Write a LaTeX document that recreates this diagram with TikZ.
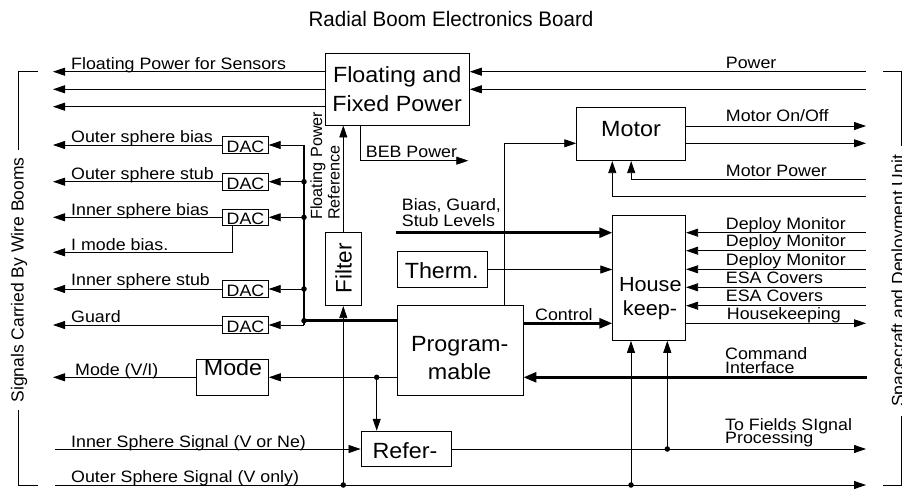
\documentclass[tikz,border=0pt]{standalone}
\usepackage{fontspec}
\setmainfont{Liberation Sans}
\newfontfamily\lblfam[FakeStretch=1.08]{Liberation Sans}
\newfontfamily\bigfam[FakeStretch=1.06]{Liberation Sans}
\newfontfamily\ttlfam[FakeStretch=0.98]{Liberation Sans}
\usetikzlibrary{arrows.meta}
\newcommand\lblf{\lblfam\fontsize{16.5}{16.5}\selectfont}
\newcommand\bigf{\bigfam\fontsize{22}{22}\selectfont}
\newcommand\hkf{\bigfam\fontsize{20.4}{20.4}\selectfont}
\newcommand\ttlf{\ttlfam\fontsize{21}{21}\selectfont}
\newcommand\rotf{\fontsize{17.5}{17.5}\selectfont}
\newcommand\rotsf{\fontsize{16.2}{16.2}\selectfont}
\newcommand\filtf{\fontsize{22.5}{22.5}\selectfont}
\tikzset{
  box/.style={draw, line width=0.8pt, inner sep=0pt},
  ln/.style={line width=0.8pt},
  thk/.style={line width=2.8pt},
  arr/.style={-{Triangle[length=12pt,width=8pt]}},
  arrT/.style={-{Triangle[length=13pt,width=10pt]}},
  dot/.style={circle, fill, inner sep=0pt, minimum size=5.5pt},
  lbl/.style={font=\lblf, inner sep=0pt, anchor=base west},
  big/.style={font=\bigf, inner sep=0pt, anchor=base},
  rlbl/.style={font=\rotf, inner sep=0pt, rotate=90},
}
\begin{document}
\begin{tikzpicture}[x=1pt,y=-1pt]
\useasboundingbox (0,0) rectangle (902,489);
% title
\node[font=\ttlf, anchor=base, inner sep=0pt] (title) at (451,27) {Radial Boom Electronics Board};
% boxes
\node[box, minimum width=144.3pt, minimum height=71.7pt] (fp) at (397.2,89.2) {};
\node[box, minimum width=109pt, minimum height=53.4pt] (motor) at (631.2,134) {};
\node[box, minimum width=73pt, minimum height=125.5pt] (house) at (649.2,277.7) {};
\node[box, minimum width=90pt, minimum height=35.6pt] (therm) at (442.3,269.5) {};
\node[box, minimum width=125.7pt, minimum height=89.5pt] (prog) at (460.2,350.2) {};
\node[box, minimum width=72.3pt, minimum height=35.7pt] (mode) at (232.2,377.3) {};
\node[box, minimum width=90.7pt, minimum height=35.7pt] (refer) at (406.3,449) {};
\node[box, minimum width=36.7pt, minimum height=73pt] (filt) at (343.3,269.2) {};
\node[box, minimum width=45.6pt, minimum height=16.7pt] (dac1) at (245.5,145) {};
\node[box, minimum width=45.6pt, minimum height=16.7pt] (dac2) at (245.5,181.7) {};
\node[box, minimum width=45.6pt, minimum height=16.7pt] (dac3) at (245.5,217.3) {};
\node[box, minimum width=45.6pt, minimum height=16.7pt] (dac4) at (245.5,289) {};
\node[box, minimum width=45.6pt, minimum height=16.7pt] (dac5) at (245.5,325) {};
% box texts
\node[big] (fpt1) at (397.2,82.7) {Floating and};
\node[big] (fpt2) at (397.2,111.7) {Fixed Power};
\node[big] (motort) at (631,136.7) {Motor};
\node[big, font=\hkf] (houset1) at (650.3,291.7) {House};
\node[big, font=\hkf] (houset2) at (650,315) {keep-};
\node[big] (thermt) at (441.7,278.3) {Therm.};
\node[big] (progt1) at (459.7,351) {Program-};
\node[big] (progt2) at (459.7,379.3) {mable};
\node[big] (refert) at (405,458.3) {Refer-};
\node[big] (modet) at (233,375) {Mode};
\node[font=\filtf, inner sep=0pt, rotate=90, anchor=base] (filtt) at (351.7,268.3) {Filter};
\foreach \i/\y in {1/145,2/181.7,3/217.3,4/289,5/325}
  \node[lbl, anchor=base] (dact\i) at (245.5,\y+7.7) {DAC};
% coordinates
\coordinate (Lx) at (53,0);
\coordinate (L1) at (53,71.7);
\coordinate (L2) at (53,89.3);
\coordinate (L3) at (53,106.7);
\coordinate (IMB) at (53,252.3);
\coordinate (B0) at (304,145);
\coordinate (B1) at (304,181.7);
\coordinate (B2) at (304,217.3);
\coordinate (B3) at (304,289);
\coordinate (B4) at (304,320.7);
\coordinate (B5) at (304,325);
\coordinate (D1) at (343.3,485);
\coordinate (D2) at (631,485);
\coordinate (D3) at (667.3,449);
\coordinate (MD) at (376.7,377.3);
\coordinate (PM) at (504.7,143.3);
\coordinate (BG) at (396,232.7);
\coordinate (BEB) at (468.3,160.7);
\coordinate (P1) at (866,71.7);
\coordinate (P2) at (866,89.3);
\coordinate (M1) at (866,126);
\coordinate (M2) at (866,143.3);
\coordinate (MP1) at (866,179.3);
\coordinate (MP2) at (866,196.7);
\coordinate (R1) at (866,232.7);
\coordinate (R2) at (866,250.7);
\coordinate (R3) at (866,269.3);
\coordinate (R4) at (866,287.3);
\coordinate (R5) at (866,305.7);
\coordinate (HK) at (866,323.3);
\coordinate (CI) at (866.7,377.3);
\coordinate (IS) at (55,449);
\coordinate (OS) at (55,485);
\coordinate (TF) at (866,449);
\coordinate (OE) at (866,485);
% floating power connections
\draw[ln,arr] (fp.west |- L1) -- (L1);
\draw[ln,arr] (fp.west |- L2) -- (L2);
\draw[ln,arr] (fp.west |- L3) -- (L3);
\draw[ln,arr] (P1) -- (P1 -| fp.east);
\draw[ln,arr] (P2) -- (P2 -| fp.east);
\draw[ln,arr] ([xshift=35.7pt]fp.south west) |- (BEB);
% bus and DACs
\draw[thk] (B0) -- (B5);
\draw[thk] (B4) -- (B4 -| prog.west);
\draw[ln,arr] (B0) -- (dac1.east);
\draw[ln,arr] (B1) -- (dac2.east);
\draw[ln,arr] (B2) -- (dac3.east);
\draw[ln,arr] (B3) -- (dac4.east);
\draw[ln,arr] (B5) -- (dac5.east);
\foreach \d in {1,...,5} \draw[ln,arr] (dac\d.west) -- (dac\d.west -| Lx);
\draw[ln,arr] ([xshift=9.6pt]dac3.south west) |- (IMB);
\foreach \b in {B1,B2,B3,B4} \node[dot] at (\b) {};
% filter
\draw[ln,arr] (filt.north) -- (filt.north |- fp.south);
\draw[ln,arr] (D1) -- (filt.south);
% mode and refer
\draw[ln,arr] (prog.west |- mode.east) -- (mode.east);
\draw[ln,arr] (mode.west) -- (mode.west -| Lx);
\draw[ln,arr] (MD) -- (MD |- refer.north);
\node[dot] at (MD) {};
\draw[ln,arr] (IS) -- (refer.west);
\draw[ln,arr] (refer.east) -- (TF);
\draw[ln,arr] (OS) -- (OE);
\node[dot] at (D1) {};
\node[dot] at (D2) {};
\node[dot] at (D3) {};
\draw[ln,arr] (D2) -- (D2 |- house.south);
\draw[ln,arr] (D3) -- (D3 |- house.south);
% programmable
\draw[thk,arrT] (CI) -- (CI -| prog.east);
\draw[thk,arrT] (prog.east |- HK) -- (house.west |- HK);
\draw[ln,arr] (PM |- prog.north) -- (PM) -- (PM -| motor.west);
\draw[thk,arrT] (BG) -- (BG -| house.west);
\draw[ln,arr] (therm.east) -- (therm.east -| house.west);
% housekeeping
\foreach \r in {R1,R2,R3,R4,R5} \draw[ln,arr] (\r) -- (\r -| house.east);
\draw[ln,arr] (house.east |- HK) -- (HK);
% motor
\draw[ln,arr] (motor.east |- M1) -- (M1);
\draw[ln,arr] (motor.east |- M2) -- (M2);
\draw[ln,arr] (MP1) -| (motor.south);
\draw[ln,arr] (MP2) -| ([xshift=36pt]motor.south west);
% brackets
\draw[ln] (37.7,71.7) -- (18.3,71.7) -- (18.3,150);
\draw[ln] (18.3,410) -- (18.3,485) -- (37.7,485);
\draw[ln] (883,71) -- (901,71) -- (901,146);
\draw[ln] (901,416) -- (901,485) -- (883,485);
\node[rlbl, anchor=base] (lside) at (23.5,280) {Signals Carried By Wire Booms};
\node[rlbl, anchor=base] (rside) at (904,281) {Spacecraft and Deployment Unit};
\node[rlbl, font=\rotsf, anchor=base west] (fpr1) at (322,220) {Floating Power};
\node[rlbl, font=\rotsf, anchor=base west] (fpr2) at (339.5,220) {Reference};
% labels
\node[lbl] (t1) at (71,69.5) {Floating Power for Sensors};
\node[lbl] (t2) at (71,142.7) {Outer sphere bias};
\node[lbl] (t3) at (71,179.3) {Outer sphere stub};
\node[lbl] (t4) at (71,215.7) {Inner sphere bias};
\node[lbl] (t5) at (71,251) {I mode bias.};
\node[lbl] (t6) at (71,285.5) {Inner sphere stub};
\node[lbl] (t7) at (71,322.7) {Guard};
\node[lbl] (t8) at (75,375.7) {Mode (V/I)};
\node[lbl] (t9) at (71,447.3) {Inner Sphere Signal (V or Ne)};
\node[lbl] (t10) at (71,482) {Outer Sphere Signal (V only)};
\node[lbl] (t11) at (725.7,68.3) {Power};
\node[lbl] (t12) at (365.7,157.5) {BEB Power};
\node[lbl] (t13) at (725.7,121.7) {Motor On/Off};
\node[lbl] (t14) at (725.7,176.7) {Motor Power};
\node[lbl] (t15) at (401.7,210.7) {Bias, Guard,};
\node[lbl] (t16) at (401.7,226) {Stub Levels};
\node[lbl] (t17) at (725.7,229.3) {Deploy Monitor};
\node[lbl] (t18) at (725.7,247) {Deploy Monitor};
\node[lbl] (t19) at (725.7,265.3) {Deploy Monitor};
\node[lbl] (t20) at (725.7,283.5) {ESA Covers};
\node[lbl] (t21) at (725.7,301.5) {ESA Covers};
\node[lbl] (t22) at (726.7,319.3) {Housekeeping};
\node[lbl] (t23) at (535,320.7) {Control};
\node[lbl] (t24) at (725,359.3) {Command};
\node[lbl] (t25) at (725,373.3) {Interface};
\node[lbl] (t26) at (725,430.7) {To Fields SIgnal};
\node[lbl] (t27) at (725,443.3) {Processing};
\end{tikzpicture}
\end{document}
